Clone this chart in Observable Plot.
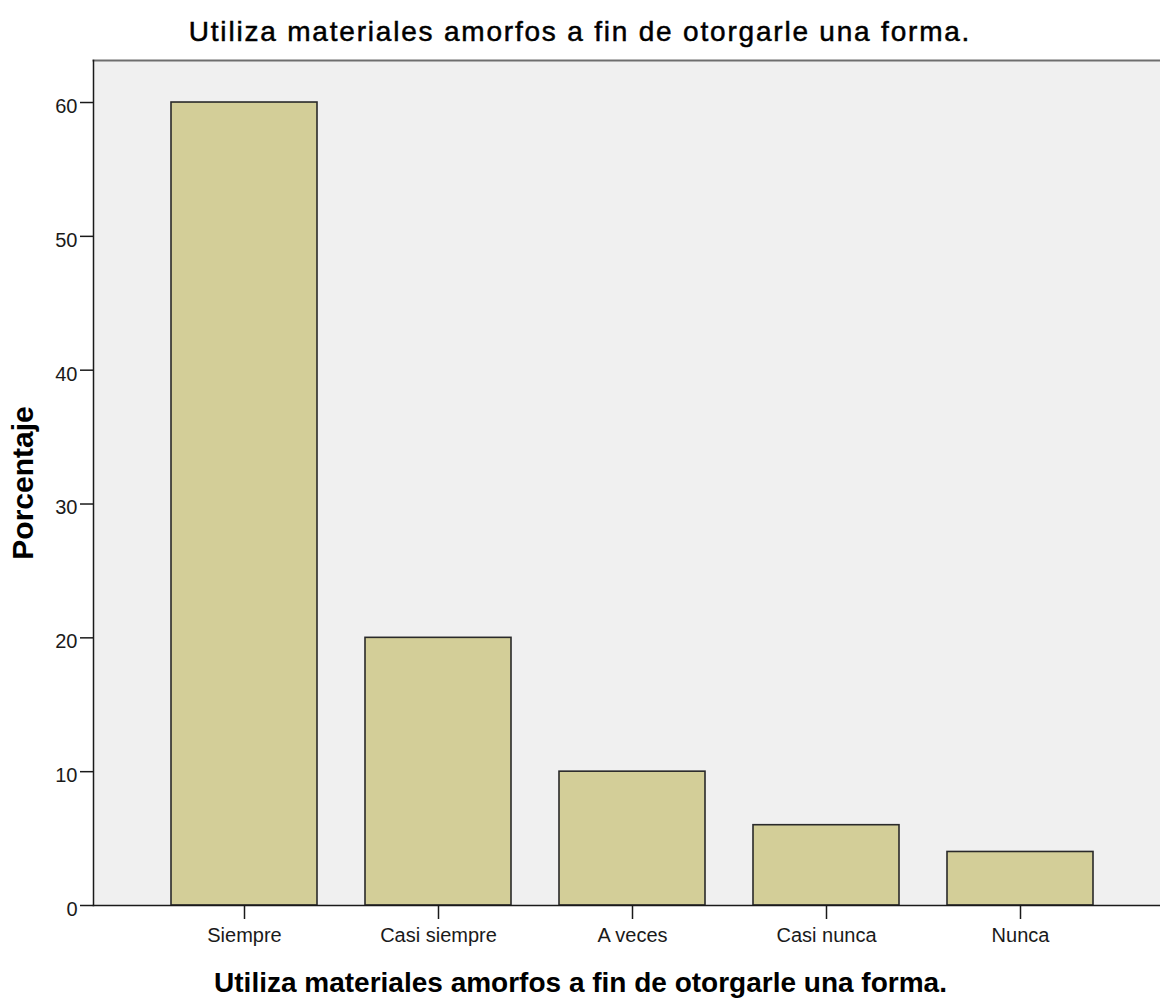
<!DOCTYPE html>
<html><head><meta charset="utf-8">
<script src="https://cdn.jsdelivr.net/npm/d3@7"></script>
<script src="https://cdn.jsdelivr.net/npm/@observablehq/plot@0.6"></script>
<style>
html,body{margin:0;padding:0;background:#fff;}
#title{width:1160px;height:55px;box-sizing:border-box;padding-top:18px;font-family:"Liberation Sans",Arial,sans-serif;font-size:28px;line-height:28px;letter-spacing:1.8px;text-align:center;color:#000;-webkit-text-stroke:0.5px #000;}
#chart svg{display:block;}
</style></head><body>
<div id="title"></div><div id="chart"></div>
<script>
const chartTitle = "Utiliza materiales amorfos a fin de otorgarle una forma.";
const xTitle = "Utiliza materiales amorfos a fin de otorgarle una forma.";
const yTitle = "Porcentaje";
const categories = ["Siempre", "Casi siempre", "A veces", "Casi nunca", "Nunca"];
const percentages = [60, 20, 10, 6, 4];
const yTicks = [0, 10, 20, 30, 40, 50, 60];
const yMax = 63.14;

const data = categories.map((c, i) => ({category: c, percent: percentages[i]}));
document.getElementById("title").textContent = chartTitle;

const chart = Plot.plot({
  width: 1160, height: 943,
  marginLeft: 93, marginRight: 0, marginTop: 5, marginBottom: 93,
  style: {fontFamily: '"Liberation Sans", Arial, sans-serif', fontSize: "20px", color: "#1a1a1a", background: "white"},
  x: {domain: categories, range: [93, 1171], paddingInner: 0.25, paddingOuter: 0.403},
  y: {domain: [0, yMax]},
  marks: [
    Plot.frame({fill: "#f0f0f0", stroke: "none"}),
    Plot.barY(data, {x: "category", y: "percent", fill: "#d3ce98", stroke: "#2a2a2a", strokeWidth: 1.6}),
    Plot.frame({anchor: "top", stroke: "#6e6e6e", strokeWidth: 2}),
    Plot.frame({anchor: "left", stroke: "#1a1a1a", strokeWidth: 1.5}),
    Plot.frame({anchor: "bottom", stroke: "#1a1a1a", strokeWidth: 1.5}),
    Plot.axisY({ticks: yTicks, tickSize: 13, tickPadding: 3, label: null, tickFormat: () => "", strokeWidth: 1.5}),
    Plot.text(yTicks, {y: d => d, frameAnchor: "left", dx: -16, dy: 4, textAnchor: "end", text: d => String(d), fill: "#1a1a1a"}),
    Plot.axisX({tickSize: 14, tickPadding: 8, label: null, strokeWidth: 1.5}),
    Plot.text([yTitle], {frameAnchor: "left", dx: -70, rotate: -90, fontSize: 30, fontWeight: "bold", textAnchor: "middle", lineAnchor: "middle", text: d => d, fill: "#000"}),
    Plot.text([xTitle], {frameAnchor: "bottom", dx: -46.5, dy: 67, lineAnchor: "top", fontSize: 28, fontWeight: "bold", text: d => d, fill: "#000"})
  ]
});
document.getElementById("chart").appendChild(chart);
</script>
</body></html>
